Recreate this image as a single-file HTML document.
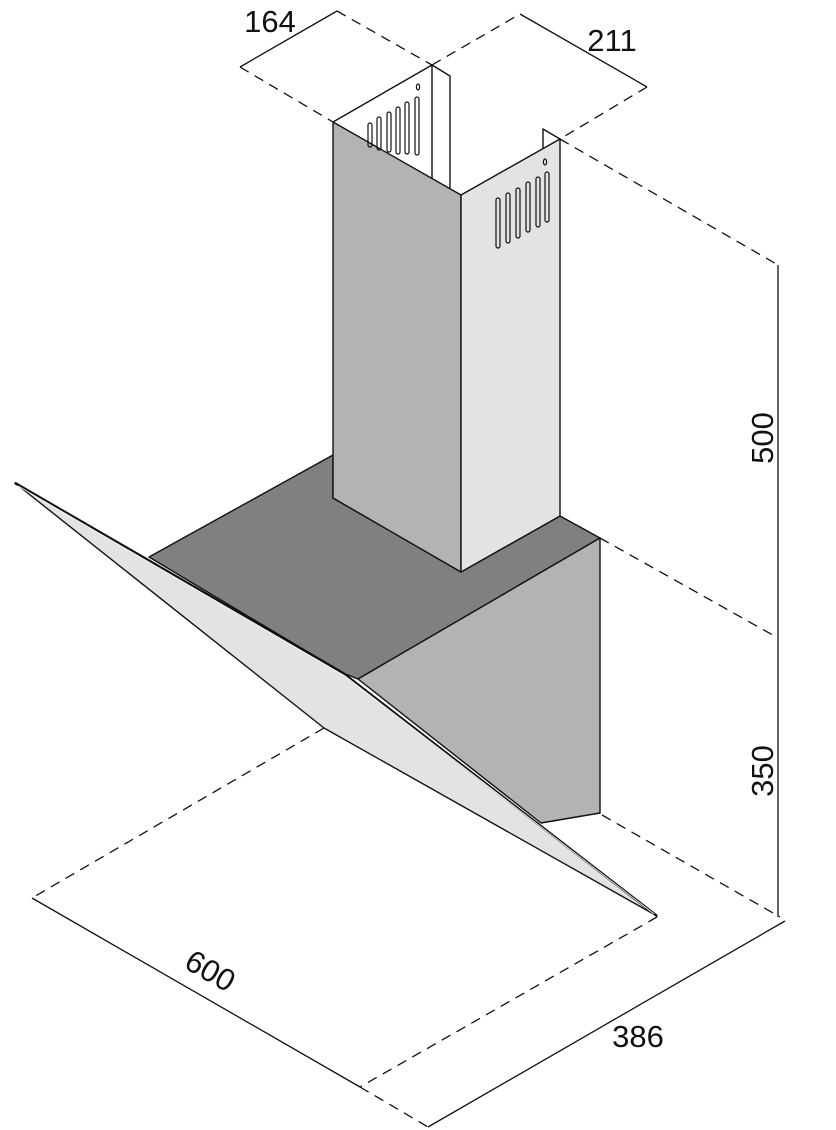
<!DOCTYPE html>
<html><head><meta charset="utf-8"><style>
html,body{margin:0;padding:0;background:#fff}
svg{display:block}
text{font-family:"Liberation Sans",sans-serif;font-size:31px;fill:#111}
</style></head><body>
<svg width="836" height="1130" viewBox="0 0 836 1130" xmlns="http://www.w3.org/2000/svg">
<g stroke="#111" stroke-width="1.4" fill="none" stroke-linejoin="round">
<polygon points="149,557 333,455 333,498 461,572 560,516 600,538 358,679 343,673" fill="#808080"/>
<polygon points="358,679 600,538 600,813 541,823" fill="#b3b3b3"/>
<polygon points="15,483 343,673 657,916 324,728" fill="#e3e3e3"/>
<polyline points="15,483 343,673 657,916" stroke-width="2.5"/>
<polyline points="18,486 345,676 654,914" stroke="#fff" stroke-width="0.8"/>
<polygon points="333,122 461,195 461,572 333,498" fill="#b3b3b3"/>
<polygon points="461,195 560,139 560,516 461,572" fill="#e3e3e3"/>
<polyline points="333,122 432,65 432,178"/>
<polyline points="432,65 450,76 450,188"/>
<polyline points="543,149 543,129 560,139"/>
<g stroke-width="1.2">
<rect x="368" y="123" width="4" height="24" rx="2"/>
<rect x="377" y="117" width="4" height="33" rx="2"/>
<rect x="387" y="112" width="4" height="40" rx="2"/>
<rect x="396" y="107" width="4" height="47" rx="2"/>
<rect x="405" y="102" width="4" height="52" rx="2"/>
<rect x="415" y="97" width="4" height="58" rx="2"/>
<ellipse cx="418" cy="87" rx="1.6" ry="3"/>
<rect x="496" y="198" width="4" height="50" rx="2"/>
<rect x="506" y="193" width="4" height="50" rx="2"/>
<rect x="516" y="188" width="4" height="50" rx="2"/>
<rect x="526" y="182" width="4" height="50" rx="2"/>
<rect x="536" y="177" width="4" height="50" rx="2"/>
<rect x="545" y="172" width="4" height="50" rx="2"/>
<ellipse cx="545" cy="162" rx="1.6" ry="3"/>
</g>
</g>
<g stroke="#111" stroke-width="1.3" fill="none">
<line x1="240" y1="67" x2="337" y2="11"/>
<line x1="520" y1="14" x2="647" y2="87"/>
<line x1="778" y1="265" x2="778" y2="917"/>
<line x1="32" y1="898" x2="360" y2="1087"/>
<line x1="428" y1="1127" x2="785" y2="921"/>
</g>
<g stroke="#111" stroke-width="1.3" fill="none" stroke-dasharray="10,7">
<line x1="337" y1="11" x2="432" y2="65"/>
<line x1="240" y1="67" x2="333" y2="122"/>
<line x1="432" y1="65" x2="520" y2="14"/>
<line x1="647" y1="87" x2="560" y2="139"/>
<line x1="560" y1="139" x2="778" y2="265"/>
<line x1="600" y1="538" x2="778" y2="638"/>
<line x1="602" y1="815" x2="780" y2="917"/>
<line x1="324" y1="728" x2="32" y2="898"/>
<line x1="657" y1="917" x2="360" y2="1087"/>
<line x1="360" y1="1087" x2="428" y2="1127"/>
</g>
<text x="270" y="32" text-anchor="middle">164</text>
<text x="612" y="51" text-anchor="middle">211</text>
<text transform="translate(773,438) rotate(-90)" text-anchor="middle">500</text>
<text transform="translate(773,771) rotate(-90)" text-anchor="middle">350</text>
<text transform="translate(205,980) rotate(30)" text-anchor="middle">600</text>
<text x="638" y="1047" text-anchor="middle">386</text>
</svg>
</body></html>
